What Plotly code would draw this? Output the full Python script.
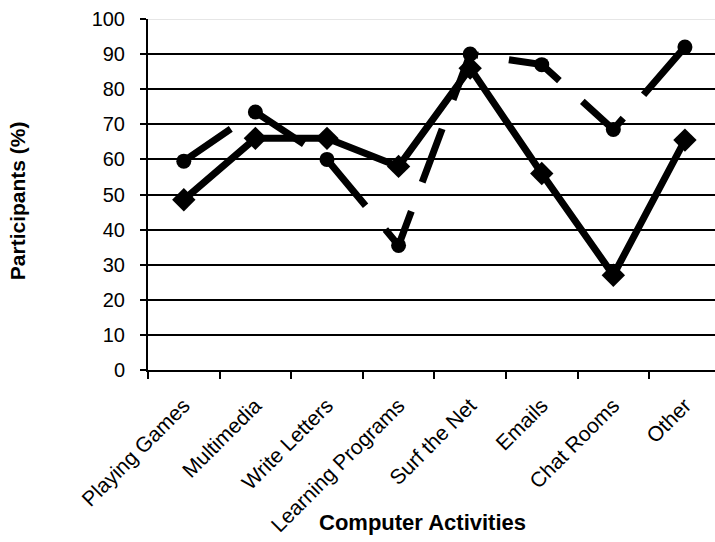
import plotly.graph_objects as go

# Share of participants (%) for each computer activity, two groups
activities = ["Playing Games", "Multimedia", "Write Letters", "Learning Programs",
              "Surf the Net", "Emails", "Chat Rooms", "Other"]
group_solid = [48.5, 66, 66, 58, 86, 56, 27, 65.5]
group_dashed = [59.5, 73.5, 60, 35.5, 90, 87, 68.5, 92]
y_ticks = list(range(0, 101, 10))

FONT = "Liberation Sans, Arial, sans-serif"

fig = go.Figure()
fig.add_trace(go.Scatter(
    x=activities, y=group_solid, mode="lines+markers",
    line=dict(color="black", width=7),
    marker=dict(symbol="diamond", size=18, color="black"),
    showlegend=False, cliponaxis=False,
))
fig.add_trace(go.Scatter(
    x=activities, y=group_dashed, mode="lines+markers",
    line=dict(color="black", width=7, dash="57px,31px"),
    marker=dict(symbol="circle", size=15, color="black"),
    showlegend=False, cliponaxis=False,
))

fig.update_layout(
    width=715, height=542,
    margin=dict(l=148, r=0, t=19, b=172, autoexpand=False),
    paper_bgcolor="white", plot_bgcolor="white",
    font=dict(family=FONT, color="black"),
    xaxis=dict(
        type="category", range=[-0.5, 7.42], automargin=False,
        showline=True, linecolor="black", linewidth=2,
        ticks="outside", tickson="boundaries", ticklen=7, tickwidth=2, tickcolor="black",
        tickangle=-45, tickfont=dict(size=21, family=FONT),
        ticklabelstandoff=13,
        showgrid=False, zeroline=False,
    ),
    yaxis=dict(
        range=[0, 100], tickvals=y_ticks, automargin=False,
        showline=True, linecolor="black", linewidth=2,
        ticks="outside", ticklen=6, tickwidth=2, tickcolor="black",
        tickfont=dict(size=20, family=FONT),
        ticklabelstandoff=11,
        showgrid=True, gridcolor="black", gridwidth=2, zeroline=False,
    ),
    annotations=[
        dict(text="<b>Computer Activities</b>", xref="paper", yref="paper",
             x=0.485, y=0, yshift=-152, showarrow=False, font=dict(size=22, family=FONT),
             xanchor="center", yanchor="middle"),
        dict(text="<b>Participants (%)</b>", xref="paper", yref="paper",
             x=0, xshift=-131, y=0.481, textangle=-90, showarrow=False,
             font=dict(size=21, family=FONT), xanchor="center", yanchor="middle"),
    ],
    shapes=[
        # faint top border of the plot area at 100
        dict(type="line", xref="paper", yref="y", x0=0, x1=1, y0=100, y1=100,
             line=dict(color="#e6e6e6", width=2), layer="above"),
    ],
)

fig.write_html("out.html")
